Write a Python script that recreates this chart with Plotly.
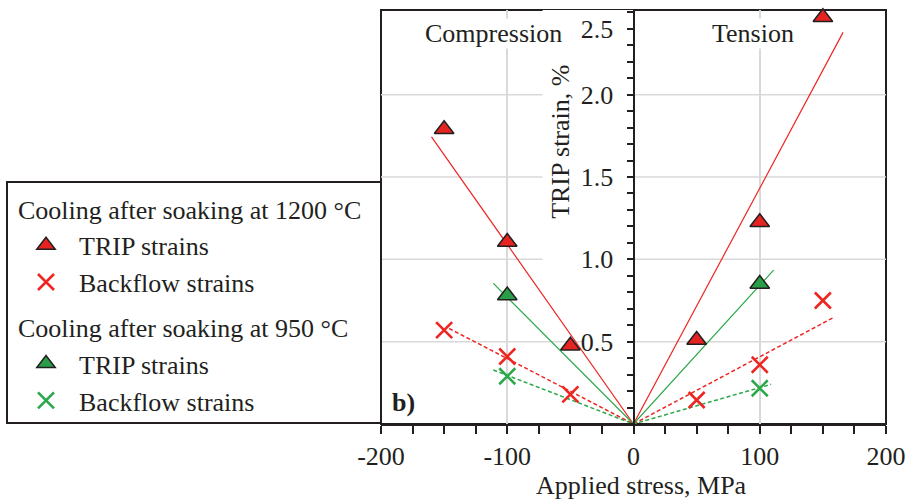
import plotly.graph_objects as go

# ---------------- data ----------------
stress_1200 = [-150, -100, -50, 50, 100, 150]
trip_1200 = [1.79, 1.105, 0.475, 0.51, 1.225, 2.47]
backflow_1200 = [0.57, 0.41, 0.18, 0.146, 0.36, 0.75]

stress_950 = [-100, 100]
trip_950 = [0.78, 0.85]
backflow_950 = [0.29, 0.217]

# fitted lines through the origin (end points)
fit_trip_1200_x = [-160, 0, 166]
fit_trip_1200_y = [1.744, 0, 2.378]
fit_trip_950_x = [-111, 0, 111]
fit_trip_950_y = [0.854, 0, 0.935]
fit_back_1200_x = [-146, 0, 158]
fit_back_1200_y = [0.58, 0, 0.645]
fit_back_950_x = [-111, 0, 109]
fit_back_950_y = [0.328, 0, 0.241]

x_tickvals = [-200, -100, 0, 100, 200]
x_ticktext = ["-200", "-100", "0", "100", "200"]
y_tickvals = [0.5, 1.0, 1.5, 2.0, 2.4]
y_ticktext = ["0.5", "1.0", "1.5", "2.0", "2.5"]
y_gridvals = [0.5, 1.0, 1.5, 2.0]

# ---------------- style ----------------
W, H = 905, 502
FONT = "Liberation Serif"
INK = "#231f20"
RED = "#ee2622"
RED_FILL = "#e52421"
GREEN = "#2ba84a"
GREEN_FILL = "#2a9d48"
GRID = "#d9d9d9"

xdom = [381 / W, 886 / W]
ydom = [1 - 424 / H, 1 - 10 / H]
YMAX = 2.514

fig = go.Figure()

# fit lines
fig.add_trace(go.Scatter(x=fit_trip_1200_x, y=fit_trip_1200_y, mode="lines",
                         line=dict(color=RED, width=1.2), showlegend=False, hoverinfo="skip"))
fig.add_trace(go.Scatter(x=fit_trip_950_x, y=fit_trip_950_y, mode="lines",
                         line=dict(color=GREEN, width=1.2), showlegend=False, hoverinfo="skip"))
fig.add_trace(go.Scatter(x=fit_back_1200_x, y=fit_back_1200_y, mode="lines",
                         line=dict(color=RED, width=1.5, dash="4px,2.5px"), showlegend=False, hoverinfo="skip"))
fig.add_trace(go.Scatter(x=fit_back_950_x, y=fit_back_950_y, mode="lines",
                         line=dict(color=GREEN, width=1.5, dash="4px,2.5px"), showlegend=False, hoverinfo="skip"))

tri = dict(symbol="triangle-up", size=17, line=dict(color=INK, width=1.5))

fig.add_trace(go.Scatter(x=stress_1200, y=trip_1200, mode="markers", name="TRIP strains",
                         legendgroup="g1200",
                         legendgrouptitle=dict(text="Cooling after soaking at 1200 °C"),
                         marker=dict(color=RED_FILL, **tri), cliponaxis=False))
fig.add_trace(go.Scatter(x=stress_1200, y=backflow_1200, mode="markers", name="Backflow strains",
                         legendgroup="g1200",
                         marker=dict(color=RED, symbol="x-thin", size=16,
                                     line=dict(color=RED, width=2.6)), cliponaxis=False))
fig.add_trace(go.Scatter(x=stress_950, y=trip_950, mode="markers", name="TRIP strains",
                         legendgroup="g950",
                         legendgrouptitle=dict(text="Cooling after soaking at 950 °C"),
                         marker=dict(color=GREEN_FILL, **tri), cliponaxis=False))
fig.add_trace(go.Scatter(x=stress_950, y=backflow_950, mode="markers", name="Backflow strains",
                         legendgroup="g950",
                         marker=dict(color=GREEN, symbol="x-thin", size=16,
                                     line=dict(color=GREEN, width=2.6)), cliponaxis=False))

shapes = []
# horizontal grid lines
for g in y_gridvals:
    shapes.append(dict(type="line", xref="x", yref="y", x0=-200, x1=200, y0=g, y1=g,
                       line=dict(color=GRID, width=1.5), layer="between"))
# white area behind the y title / labels
shapes.append(dict(type="rect", xref="x", yref="y", x0=-72, x1=0, y0=0.9, y1=YMAX,
                   fillcolor="white", line=dict(width=0), layer="between"))
shapes.append(dict(type="rect", xref="x", yref="y", x0=-40, x1=0, y0=0.44, y1=0.56,
                   fillcolor="white", line=dict(width=0), layer="between"))
# plot frame
shapes.append(dict(type="rect", xref="paper", yref="paper", x0=xdom[0], x1=xdom[1],
                   y0=ydom[0], y1=ydom[1], line=dict(color=INK, width=2), layer="between"))
# legend frame
shapes.append(dict(type="rect", xref="paper", yref="paper", x0=7 / W, x1=381 / W,
                   y0=1 - 423 / H, y1=1 - 182 / H, line=dict(color=INK, width=2),
                   fillcolor="rgba(0,0,0,0)"))

tf = dict(family=FONT, size=26, color=INK)
annotations = [
    dict(text="Compression", x=-111, y=2.374, xref="x", yref="y", showarrow=False,
         font=tf, bgcolor="white", borderpad=0),
    dict(text="Tension", x=95, y=2.374, xref="x", yref="y", showarrow=False,
         font=tf, bgcolor="white", borderpad=0),
    dict(text="TRIP strain, %", x=-58, y=1.715, xref="x", yref="y", showarrow=False,
         textangle=-90, font=tf, bgcolor="white", borderpad=0),
    dict(text="Applied stress, MPa", x=6, y=1 - 485 / H, xref="x", yref="paper",
         yanchor="middle", showarrow=False, font=tf),
    dict(text="<b>b)</b>", x=-182, y=0.128, xref="x", yref="y", showarrow=False,
         font=tf),
]

fig.update_layout(
    width=W, height=H,
    margin=dict(l=0, r=0, t=0, b=0, autoexpand=False),
    paper_bgcolor="white", plot_bgcolor="white",
    font=tf,
    showlegend=True,
    legend=dict(x=13 / W, y=1 - 185 / H, xanchor="left", yanchor="top",
                bgcolor="rgba(0,0,0,0)", borderwidth=0,
                font=tf, grouptitlefont=tf, itemwidth=56,
                tracegroupgap=8, itemclick=False),
    xaxis=dict(domain=xdom, range=[-200, 200], tickvals=x_tickvals, ticktext=x_ticktext,
               automargin=False, ticklabeloverflow="allow",
               showgrid=True, gridcolor=GRID, gridwidth=1.5, zeroline=False,
               showline=True, linecolor=INK, linewidth=2,
               ticks="outside", ticklen=8, tickwidth=2, tickcolor=INK,
               minor=dict(dtick=25, ticks="outside", ticklen=8, tickwidth=2,
                          tickcolor=INK, showgrid=False),
               tickfont=tf, fixedrange=True),
    yaxis=dict(domain=ydom, range=[0, YMAX], anchor="free", automargin=False,
               position=(xdom[0] + xdom[1]) / 2, side="left",
               tickvals=y_tickvals, ticktext=y_ticktext,
               showgrid=False, zeroline=False,
               showline=True, linecolor=INK, linewidth=2,
               ticks="outside", ticklen=6, tickwidth=2, tickcolor=INK,
               ticklabelstandoff=8,
               minor=dict(dtick=0.1, tick0=0, ticks="outside", ticklen=6, tickwidth=2,
                          tickcolor=INK, showgrid=False),
               tickfont=tf, fixedrange=True),
    shapes=shapes,
    annotations=annotations,
)

fig.write_html("out.html")
